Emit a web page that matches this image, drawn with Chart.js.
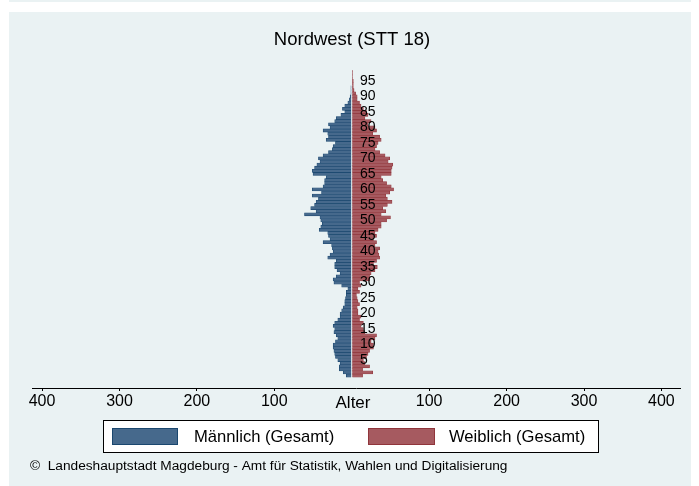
<!DOCTYPE html>
<html>
<head>
<meta charset="utf-8">
<script src="https://cdn.jsdelivr.net/npm/chart.js@4"></script>
<style>
  html, body { margin: 0; padding: 0; background: #fff; }
  canvas { display: block; }
</style>
</head>
<body>
<canvas id="pyramid" width="699" height="486"></canvas>
<script>
// age classes, 0 .. 98
var ages = [
    0, 1, 2, 3, 4, 5, 6, 7, 8, 9,
    10, 11, 12, 13, 14, 15, 16, 17, 18, 19,
    20, 21, 22, 23, 24, 25, 26, 27, 28, 29,
    30, 31, 32, 33, 34, 35, 36, 37, 38, 39,
    40, 41, 42, 43, 44, 45, 46, 47, 48, 49,
    50, 51, 52, 53, 54, 55, 56, 57, 58, 59,
    60, 61, 62, 63, 64, 65, 66, 67, 68, 69,
    70, 71, 72, 73, 74, 75, 76, 77, 78, 79,
    80, 81, 82, 83, 84, 85, 86, 87, 88, 89,
    90, 91, 92, 93, 94, 95, 96, 97, 98
];

var maennlich = [
    7, 11, 16, 16, 15, 18, 21, 22, 23, 24,
    24, 21, 18, 20, 23, 22, 24, 22, 18, 15,
    15, 13, 11, 9, 9, 8, 7, 7, 5, 13,
    23, 24, 20, 15, 19, 22, 22, 20, 31, 28,
    24, 25, 26, 37, 28, 30, 31, 42, 40, 38,
    40, 41, 61, 46, 53, 48, 46, 43, 51, 39,
    51, 37, 35, 35, 33, 50, 51, 48, 45, 41,
    43, 37, 30, 25, 24, 21, 33, 30, 31, 37,
    28, 30, 22, 20, 14, 9, 12, 9, 5, 3,
    2, 1, 1, 1, 0, 0, 0, 0, 0
];

var weiblich = [
    14, 27, 14, 23, 17, 15, 19, 21, 23, 28,
    28, 25, 30, 32, 17, 15, 12, 15, 10, 12,
    8, 8, 7, 10, 8, 7, 6, 10, 8, 12,
    10, 23, 23, 25, 30, 33, 28, 32, 36, 35,
    34, 36, 30, 32, 28, 32, 30, 34, 38, 38,
    45, 50, 38, 44, 40, 46, 52, 46, 44, 49,
    54, 51, 45, 40, 38, 51, 51, 52, 53, 47,
    49, 43, 36, 30, 32, 34, 38, 36, 27, 32,
    30, 21, 25, 17, 21, 19, 15, 12, 10, 7,
    7, 5, 3, 2, 2, 2, 1, 1, 1
];

var ageLabels = [5, 10, 15, 20, 25, 30, 35, 40, 45, 50, 55, 60, 65, 70, 75, 80, 85, 90, 95];
var xTicks = [-400, -300, -200, -100, 0, 100, 200, 300, 400];

var FONT = "'Liberation Sans', Arial, Helvetica, sans-serif";
var BLUE = '#46698c', BLUE_LINE = '#1a476f';
var RED = '#a65a60', RED_LINE = '#90353b';
var PANEL = '#eaf2f3';

var toPoints = function (values, sign) {
    var pts = [];
    for (let i = 0; i < values.length; i++) {
        pts.push({ x: sign * values[i], y: ages[i] });
    }
    return pts;
};

var decor = {
    id: 'decor',
    beforeDraw: function (chart) {
        var c = chart.ctx;
        c.save();
        c.fillStyle = '#fff';
        c.fillRect(0, 0, chart.width, chart.height);
        c.fillStyle = PANEL;
        c.fillRect(9, 0, 682, 2);
        c.fillRect(9, 12, 682, 474);
        c.restore();
    },
    afterDraw: function (chart) {
        var c = chart.ctx;
        var y = chart.scales.y;
        c.save();
        c.fillStyle = '#000';

        // title
        c.font = '18.5px ' + FONT;
        c.textAlign = 'center';
        c.textBaseline = 'middle';
        c.fillText('Nordwest (STT 18)', 352, 40);

        // age labels in the middle
        c.font = '14px ' + FONT;
        c.textAlign = 'left';
        ageLabels.forEach(function (a) {
            c.fillText(String(a), 360, y.getPixelForValue(a));
        });

        // axis title under the centre
        c.font = '17px ' + FONT;
        c.textAlign = 'center';
        c.fillText('Alter', 353, 403);

        // legend box
        c.fillStyle = '#fff';
        c.fillRect(103, 420, 495, 32);
        c.strokeStyle = '#000';
        c.lineWidth = 1;
        c.strokeRect(103.5, 420.5, 495, 32);
        c.fillStyle = BLUE;
        c.fillRect(112, 428, 66, 17);
        c.strokeStyle = BLUE_LINE;
        c.strokeRect(112.5, 428.5, 65, 16);
        c.fillStyle = RED;
        c.fillRect(368, 428, 67, 17);
        c.strokeStyle = RED_LINE;
        c.strokeRect(368.5, 428.5, 66, 16);
        c.fillStyle = '#000';
        c.font = '16.6px ' + FONT;
        c.textAlign = 'left';
        c.fillText('Männlich (Gesamt)', 194, 437);
        c.fillText('Weiblich (Gesamt)', 449, 437);

        // source note
        c.font = '13.7px ' + FONT;
        c.fillText('©  Landeshauptstadt Magdeburg - Amt für Statistik, Wahlen und Digitalisierung', 30, 466);
        c.restore();
    }
};

var chart = new Chart(document.getElementById('pyramid'), {
    type: 'bar',
    data: {
        datasets: [{
            label: 'Männlich (Gesamt)',
            data: toPoints(maennlich, -1),
            backgroundColor: BLUE,
            borderColor: BLUE_LINE,
            borderWidth: 0.6,
            grouped: false,
            barPercentage: 1,
            categoryPercentage: 1
        }, {
            label: 'Weiblich (Gesamt)',
            data: toPoints(weiblich, 1),
            backgroundColor: RED,
            borderColor: RED_LINE,
            borderWidth: 0.6,
            grouped: false,
            barPercentage: 1,
            categoryPercentage: 1
        }]
    },
    options: {
        indexAxis: 'y',
        responsive: false,
        animation: false,
        devicePixelRatio: 1,
        layout: { padding: { left: 32, right: 19, top: 70, bottom: 76 } },
        plugins: {
            legend: { display: false },
            title: { display: false },
            tooltip: {
                callbacks: {
                    label: function (item) {
                        return item.dataset.label + ': ' + Math.abs(item.parsed.x);
                    }
                }
            }
        },
        scales: {
            x: {
                type: 'linear',
                min: -413,
                max: 424,
                afterBuildTicks: function (s) {
                    s.ticks = xTicks.map(function (v) { return { value: v }; });
                },
                afterFit: function (s) { s.height = 22; },
                ticks: {
                    autoSkip: false,
                    maxRotation: 0,
                    padding: 1,
                    color: '#000',
                    font: { family: FONT, size: 16 },
                    callback: function (v) { return v === 0 ? '' : Math.abs(v); }
                },
                grid: {
                    drawOnChartArea: false,
                    tickLength: 3,
                    color: function (ctx) {
                        return ctx.tick && ctx.tick.value === 0 ? 'rgba(0,0,0,0)' : '#000';
                    }
                },
                border: { color: '#000', width: 1 }
            },
            y: {
                type: 'linear',
                min: -4,
                max: 98.5,
                offset: false,
                bounds: 'data',
                grace: 0,
                display: false
            }
        }
    },
    plugins: [decor]
});
</script>
</body>
</html>
